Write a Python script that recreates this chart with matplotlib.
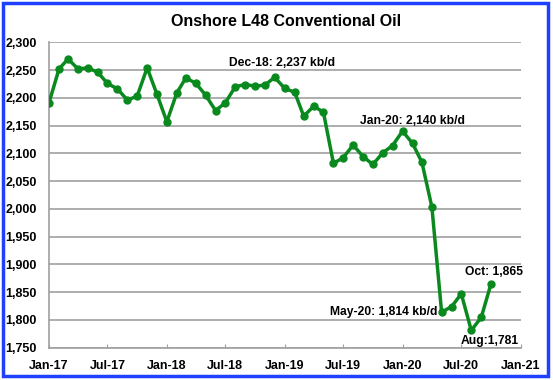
import matplotlib
matplotlib.use("Agg")
import matplotlib.pyplot as plt
import matplotlib.dates as mdates
import pandas as pd
from matplotlib.patches import Rectangle

plt.rcParams['font.family'] = ['Liberation Sans', 'DejaVu Sans']

# monthly production, kb/d
months = pd.date_range("2017-01-01", "2020-10-01", freq="MS")
oil = [2191, 2252, 2270, 2252, 2254, 2246, 2226, 2216, 2196, 2203, 2254, 2207,
       2157, 2209, 2236, 2226, 2205, 2177, 2191, 2220, 2224, 2221, 2223, 2237,
       2217, 2210, 2167, 2185, 2174, 2082, 2092, 2115, 2094, 2080, 2101, 2114,
       2140, 2118, 2084, 2003, 1814, 1824, 1847, 1781, 1805, 1865]

title = "Onshore L48 Conventional Oil"
notes = [
    ("Dec-18: 2,237 kb/d", (282, 63), "center"),
    ("Jan-20: 2,140 kb/d", (413, 121), "center"),
    ("May-20: 1,814 kb/d", (437, 312), "right"),
    ("Oct: 1,865", (494, 272), "center"),
    ("Aug:1,781", (490, 341), "center"),
]

W, H = 553, 380
fig = plt.figure(figsize=(W / 100, H / 100), dpi=100)
ax = fig.add_axes([49 / W, 1 - 347.7 / H, (520.7 - 49) / W, (347.7 - 42.3) / H])

ax.plot(months, oil, color="#0a8a1e", lw=2.5, marker="o", ms=5, zorder=3)

ax.set_ylim(1750, 2300)
ax.set_yticks(range(1750, 2301, 50))
ax.yaxis.set_major_formatter(matplotlib.ticker.FuncFormatter(lambda v, p: f"{int(v):,}"))
ax.set_xlim(pd.Timestamp("2017-01-01"), pd.Timestamp("2021-01-01"))
ax.xaxis.set_major_locator(mdates.MonthLocator(bymonth=[1, 7]))
ax.xaxis.set_major_formatter(mdates.DateFormatter("%b-%y"))

ax.grid(axis="y", color="#a0a0a0", lw=1.2)
ax.set_axisbelow(True)
for s in ["top", "right"]:
    ax.spines[s].set_visible(False)
for s in ["left", "bottom"]:
    ax.spines[s].set_color("#a0a0a0")
    ax.spines[s].set_linewidth(1.2)
ax.tick_params(axis="y", length=0, pad=9)
ax.tick_params(axis="x", direction="in", length=3, color="#a0a0a0", pad=9)
for lbl in ax.get_xticklabels() + ax.get_yticklabels():
    lbl.set_fontweight("bold")
    lbl.set_fontsize(9)

fig.text(286 / W, 1 - 21 / H, title, ha="center", va="center",
         fontsize=11.5, fontweight="bold")
for txt, (x, y), ha in notes:
    fig.text(x / W, 1 - y / H, txt, ha=ha, va="center", fontsize=8.7, fontweight="bold")

fig.add_artist(Rectangle((2.5 / W, 4 / H), (548 - 2.5) / W, (377 - 4) / H,
                         transform=fig.transFigure, fill=False,
                         edgecolor="#1f40ff", lw=2.5))

fig.savefig("out.png", dpi=100)
